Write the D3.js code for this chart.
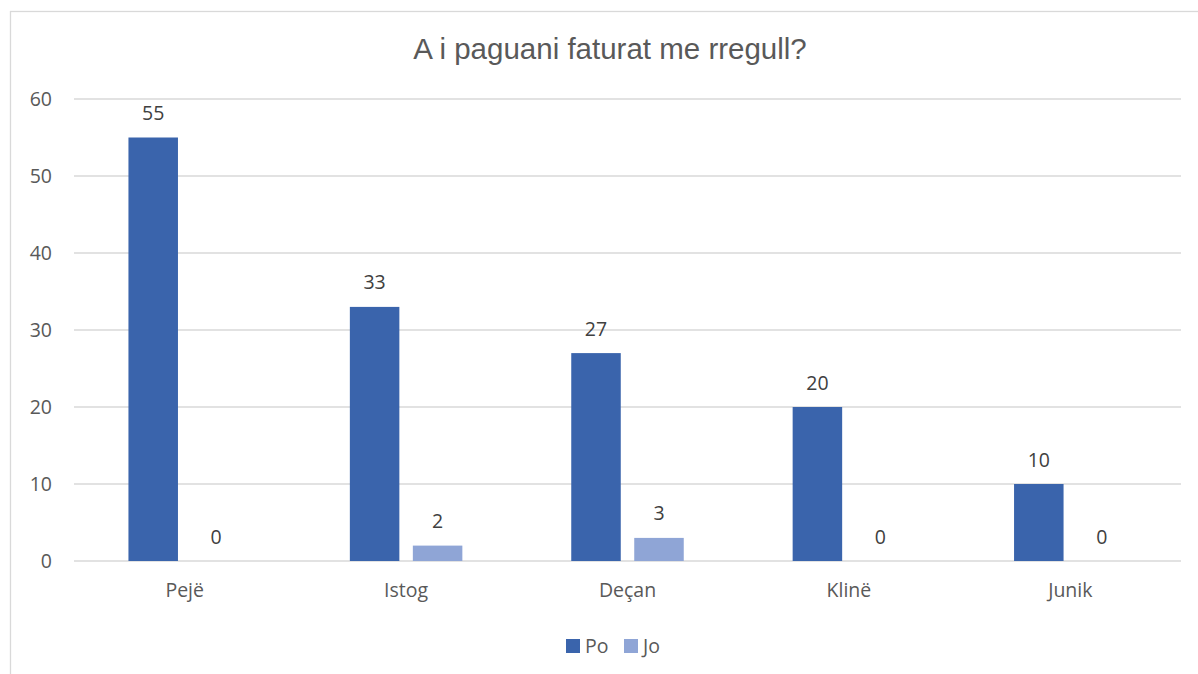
<!DOCTYPE html>
<html>
<head>
<meta charset="utf-8">
<script src="https://cdn.jsdelivr.net/npm/d3@7"></script>
<style>
  html, body { margin: 0; padding: 0; background: #fff; }
  svg { display: block; }
</style>
</head>
<body>
<div id="chart"></div>
<script>
// Survey answers per municipality
const categories = ["Pejë", "Istog", "Deçan", "Klinë", "Junik"];
const seriesNames = ["Po", "Jo"];
const poValues = [55, 33, 27, 20, 10];
const joValues = [0, 2, 3, 0, 0];
const yTicks = [0, 10, 20, 30, 40, 50, 60];
const title = "A i paguani faturat me rregull?";

const colors = { Po: "#3A64AC", Jo: "#8FA5D6" };

const W = 1198, H = 674;
const plot = { left: 74, right: 1181, top: 99, bottom: 561 };
const font = "'Open Sans', 'Noto Sans', sans-serif";
const fs = 19.5;

const svg = d3.select("#chart").append("svg")
  .attr("width", W).attr("height", H);

// chart frame
svg.append("rect")
  .attr("x", 10.5).attr("y", 11.5)
  .attr("width", W + 20).attr("height", H + 20)
  .attr("fill", "#fff").attr("stroke", "#d9d9d9").attr("stroke-width", 1.3);

svg.append("text")
  .attr("x", 610).attr("y", 59)
  .attr("text-anchor", "middle")
  .attr("font-family", "'Liberation Sans', Arial, sans-serif")
  .attr("font-size", 29.5)
  .attr("fill", "#595959")
  .text(title);

const rows = categories.map((c, i) => ({ cat: c, Po: poValues[i], Jo: joValues[i] }));

const x0 = d3.scaleBand().domain(categories).range([plot.left, plot.right]).padding(0);
const groupW = 112.5;
const x1 = d3.scaleBand().domain(seriesNames)
  .range([(x0.bandwidth() - groupW) / 2, (x0.bandwidth() + groupW) / 2])
  .paddingInner(0.214).paddingOuter(0);
const y = d3.scaleLinear().domain([0, 60]).range([plot.bottom, plot.top]);

// gridlines
svg.append("g").selectAll("line").data(yTicks).join("line")
  .attr("x1", plot.left).attr("x2", plot.right)
  .attr("y1", d => y(d)).attr("y2", d => y(d))
  .attr("stroke", "#d9d9d9").attr("stroke-width", 1.5);

// y axis labels
const yAxis = d3.axisLeft(y).tickValues(yTicks).tickSize(0).tickPadding(0);
const ya = svg.append("g").attr("transform", `translate(${plot.left - 22},0)`).call(yAxis);
ya.select(".domain").remove();
ya.selectAll("text")
  .attr("font-family", font).attr("font-size", fs).attr("fill", "#595959");

// x axis labels
const xAxis = d3.axisBottom(x0).tickSize(0).tickPadding(0);
const xa = svg.append("g").attr("transform", `translate(0,${plot.bottom + 22})`).call(xAxis);
xa.select(".domain").remove();
xa.selectAll("text")
  .attr("font-family", font).attr("font-size", fs).attr("fill", "#595959");

// bars
const groups = svg.append("g").selectAll("g").data(rows).join("g")
  .attr("transform", d => `translate(${x0(d.cat)},0)`);

groups.selectAll("rect")
  .data(d => seriesNames.map(s => ({ s, v: d[s] })))
  .join("rect")
  .attr("x", d => x1(d.s))
  .attr("width", x1.bandwidth())
  .attr("y", d => y(d.v))
  .attr("height", d => y(0) - y(d.v))
  .attr("fill", d => colors[d.s]);

groups.selectAll("text.val")
  .data(d => seriesNames.map(s => ({ s, v: d[s] })))
  .join("text")
  .attr("class", "val")
  .attr("x", d => x1(d.s) + x1.bandwidth() / 2)
  .attr("y", d => y(d.v) - 17.5)
  .attr("text-anchor", "middle")
  .attr("font-family", font).attr("font-size", fs).attr("fill", "#404040")
  .text(d => d.v);

// legend
const legendItems = [
  { s: "Po", x: 566 },
  { s: "Jo", x: 624 }
];
const lg = svg.append("g").selectAll("g").data(legendItems).join("g")
  .attr("transform", d => `translate(${d.x},639)`);
lg.append("rect").attr("width", 14).attr("height", 14).attr("fill", d => colors[d.s]);
lg.append("text").attr("x", 19).attr("y", 14)
  .attr("font-family", font).attr("font-size", fs).attr("fill", "#595959")
  .text(d => d.s);
</script>
</body>
</html>
